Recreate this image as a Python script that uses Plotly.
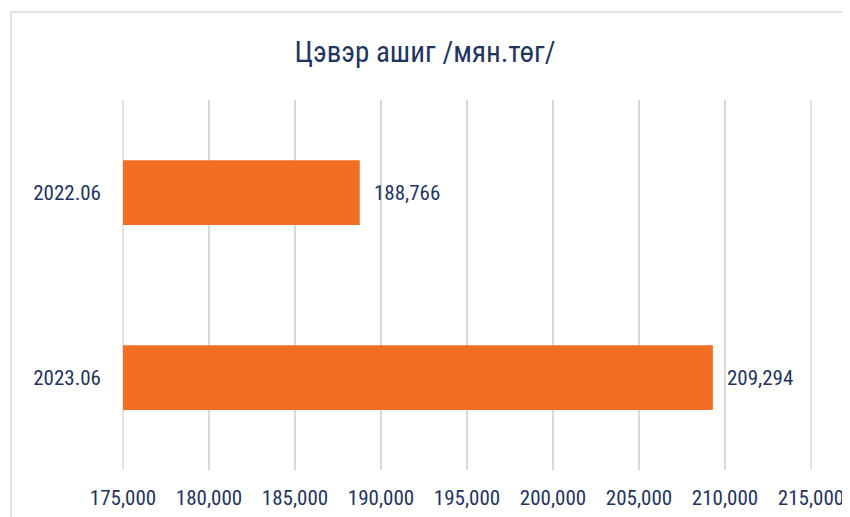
import plotly.graph_objects as go

categories = ["2022.06", "2023.06"]
values = [188766, 209294]
tick_vals = [175000, 180000, 185000, 190000, 195000, 200000, 205000, 210000, 215000]
tick_text = ["175,000", "180,000", "185,000", "190,000", "195,000", "200,000", "205,000", "210,000", "215,000"]
title_text = "Цэвэр ашиг /мян.төг/"

FONT = "Roboto Condensed, Liberation Sans Narrow, DejaVu Sans Condensed, Roboto, sans-serif"
NAVY = "#1F3461"
ORANGE = "#F26E22"
GRID = "#D9D9D9"

# page body has an 8px default margin; plot area at screen x 122..812, y 100..470
L, T = 114, 92
PW, PH = 690, 370

fig = go.Figure()
fig.add_trace(go.Bar(
    x=[v - 175000 for v in values],
    base=175000,
    y=categories,
    orientation="h",
    marker=dict(color=ORANGE, line=dict(width=0)),
    hoverinfo="skip",
))

for i, v in enumerate(values):
    fig.add_annotation(x=v, y=i, text=f"{v:,}", showarrow=False, xanchor="left",
                       xshift=12, font=dict(family=FONT, size=21, color=NAVY))

# make sure the edge gridlines are drawn (same opaque colour as the grid)
for tv in (tick_vals[0], tick_vals[-1]):
    fig.add_shape(type="line", xref="x", yref="paper", x0=tv, x1=tv, y0=0, y1=1,
                  line=dict(color=GRID, width=1.5), layer="below")

fig.add_shape(type="rect", xref="paper", yref="paper", x0=(3 - L) / PW, x1=2,
              y0=-1, y1=(T + PH - 4) / PH, line=dict(color=GRID, width=1.5),
              fillcolor="rgba(0,0,0,0)", layer="below")

fig.update_layout(
    width=850, height=517,
    margin=dict(l=L, r=850 - L - PW, t=T, b=517 - T - PH),
    paper_bgcolor="white", plot_bgcolor="white",
    showlegend=False,
    bargap=0.65,
    title=dict(text=title_text, x=(417 - L) / PW, xref="paper", xanchor="center",
               y=(517 - 44) / 517, yanchor="middle",
               font=dict(family=FONT, size=29, color=NAVY)),
    xaxis=dict(range=[174942, 215058], tickvals=tick_vals, ticktext=tick_text,
               showgrid=True, gridcolor=GRID, gridwidth=1.5, zeroline=False,
               showline=False, ticks="", ticklabelstandoff=13,
               tickfont=dict(family=FONT, size=21, color=NAVY)),
    yaxis=dict(type="category", categoryorder="array", categoryarray=categories,
               range=[1.5, -0.5], autorange=False,
               showgrid=False, zeroline=False, showline=False, ticks="",
               ticklabelstandoff=20,
               tickfont=dict(family=FONT, size=21, color=NAVY)),
)

fig.write_html("out.html")
